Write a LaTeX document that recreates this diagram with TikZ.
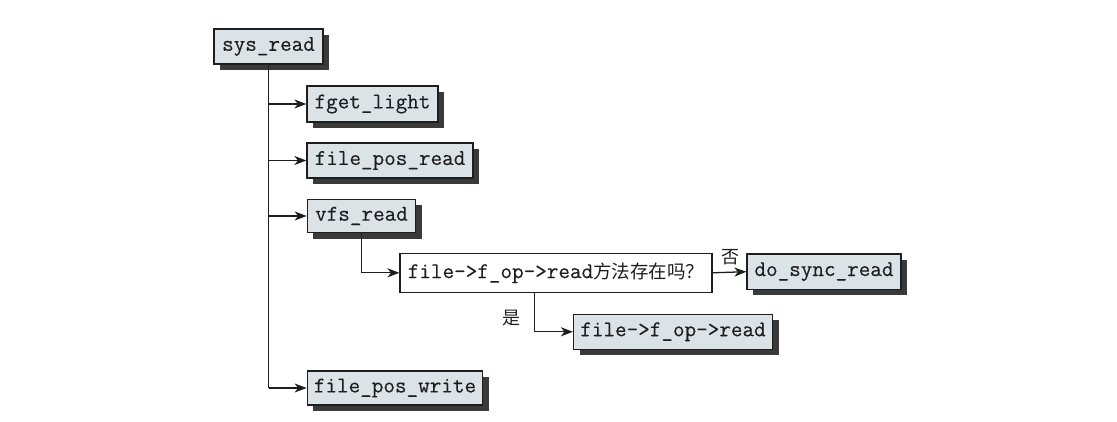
\documentclass[tikz,border=0pt]{standalone}
\usepackage{fontspec}
\setmonofont{Latin Modern Mono}[FakeBold=0.3]
\newfontfamily\cjk{Noto Sans CJK SC}
\usetikzlibrary{arrows.meta,shadows,calc}
\definecolor{boxfill}{HTML}{DCE3E7}
\definecolor{shadowc}{HTML}{3A3A3A}
\definecolor{inkc}{HTML}{1E1E1E}
\tikzset{
  fbox/.style={draw=inkc, line width=1.2pt, fill=boxfill, inner sep=0pt,
    font=\ttfamily\fontsize{22.5}{25}\selectfont, text=inkc,
    drop shadow={shadow xshift=6pt, shadow yshift=-6pt, opacity=1, fill=shadowc}},
  qbox/.style={draw=inkc, line width=1.2pt, fill=white, inner sep=0pt,
    font=\ttfamily\fontsize{22.5}{25}\selectfont, text=inkc},
  conn/.style={draw=inkc, line width=1.3pt},
  arr/.style={conn, -{Stealth[length=12pt,width=9pt,inset=3.5pt]}},
  lbl/.style={font=\cjk\fontsize{18}{20}\selectfont, text=inkc, inner sep=0pt}
}
\begin{document}
\begin{tikzpicture}[x=1pt,y=-1pt]
\useasboundingbox (0,0) rectangle (1117,422);
\node[fbox, minimum width=109pt, minimum height=35pt] (sys) at (268.5,46.5) {sys\_read};
\node[fbox, minimum width=131pt, minimum height=36pt] (fgl) at (372.5,104) {fget\_light};
\node[fbox, minimum width=166pt, minimum height=35pt] (fpr) at (390,160.5) {file\_pos\_read};
\node[fbox, minimum width=108.5pt, minimum height=33.5pt] (vfs) at (361.5,216) {vfs\_read};
\node[qbox, minimum width=312pt, minimum height=39pt] (q) at (556,272.8) {file->f\_op->read{\cjk\fontsize{18.5}{20}\selectfont 方法存在吗？}};
\node[fbox, minimum width=154pt, minimum height=35.3pt] (dsr) at (824,271.7) {do\_sync\_read};
\node[fbox, minimum width=199pt, minimum height=35pt] (fop) at (673,331.8) {file->f\_op->read};
\node[fbox, minimum width=175.5pt, minimum height=34pt] (fpw) at (395,388) {file\_pos\_write};

\draw[conn] (sys.south) -- (sys.south |- fpw.west);
\draw[arr] (sys.south |- fgl.west) -- (fgl.west);
\draw[arr] (sys.south |- fpr.west) -- (fpr.west);
\draw[arr] (sys.south |- vfs.west) -- (vfs.west);
\draw[arr] (sys.south |- fpw.west) -- (fpw.west);
\draw[arr] (vfs.south) |- (q.west);
\draw[arr] (q.east) -- (dsr.west);
\coordinate (qy) at ($(q.south west)+(135,0)$);
\draw[arr] (qy) |- (fop.west);
\node[lbl] (no) at (730,257) {否};
\node[lbl] (yes) at (511,318) {是};
\end{tikzpicture}
\end{document}
